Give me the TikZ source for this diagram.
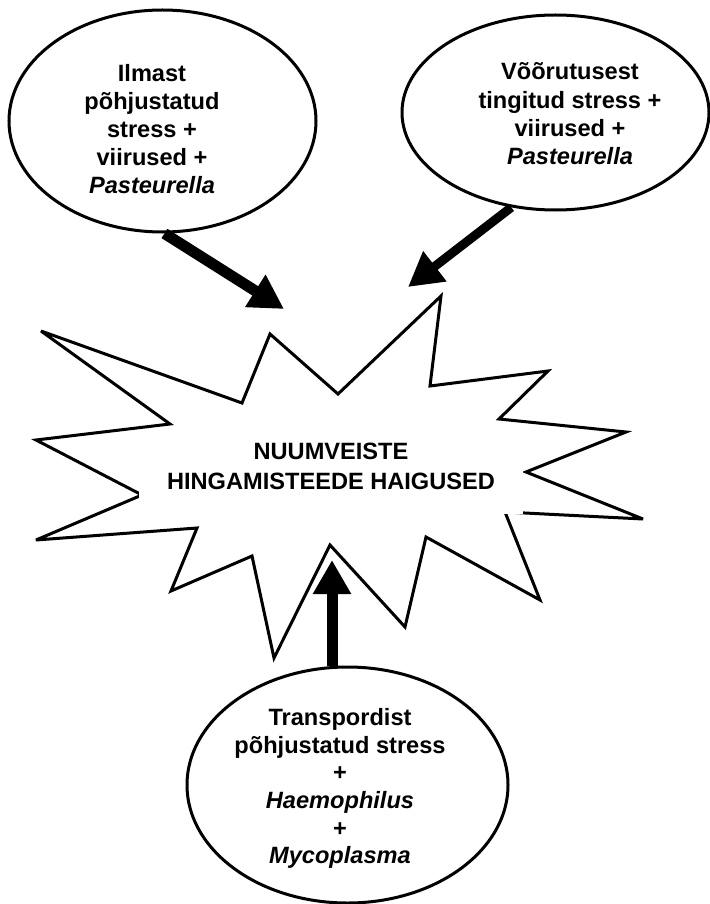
\documentclass[tikz,border=0pt]{standalone}
\usepackage{fontspec}
\setmainfont{Liberation Sans}
\usetikzlibrary{shapes.geometric,arrows.meta}
\begin{document}
\begin{tikzpicture}[x=1pt,y=-1pt,
  bubble/.style={ellipse,draw,line width=3pt,inner sep=0pt},
  lbl/.style={align=center,font=\fontsize{23.6}{28}\selectfont\bfseries,inner sep=0pt},
  fat/.style={line width=#1,-{Triangle[width=36pt,length=34pt]}},
  starline/.style={draw,line width=3pt,line join=miter,miter limit=5}
]
\useasboundingbox (0,0) rectangle (709,904);

% star burst
\path[starline] (41,331) -- (242,403) -- (270,334) -- (338,394) -- (441,296)
  -- (430,386) -- (548,371) -- (499,419) -- (626,432) -- (526,472)
  -- (643,519) -- (505,512) -- (540,600) -- (426,537) -- (405,627)
  -- (330,545) -- (274,658) -- (252,556) -- (171,591) -- (197,528)
  -- (36,540) -- (142,495) -- (36,440) -- (170,424) -- cycle;
\fill[white] (139,440) rectangle (523,514);
\node[lbl,font=\fontsize{23.6}{30}\selectfont\bfseries] (S) at (331,466.5)
  {NUUMVEISTE\\HINGAMISTEEDE HAIGUSED};

% ellipses
\node[bubble,minimum width=307pt,minimum height=222pt] (L) at (162.5,121) {};
\node[lbl] (Lt) at (152,129) {Ilmast\\põhjustatud\\stress +\\viirused +\\\textit{Pasteurella}};

\node[bubble,minimum width=307pt,minimum height=195pt] (R) at (555.5,112.5) {};
\node[lbl,font=\fontsize{23.6}{28.3}\selectfont\bfseries] (Rt) at (570,114)
  {Võõrutusest\\tingitud stress +\\viirused +\\\textit{Pasteurella}};

\node[bubble,minimum width=321pt,minimum height=236pt] (B) at (347.5,785) {};
\node[lbl,font=\fontsize{23.6}{27.7}\selectfont\bfseries] (Bt) at (340,788.5)
  {Transpordist\\põhjustatud stress\\+\\\textit{Haemophilus}\\+\\\textit{Mycoplasma}};

% arrows
\coordinate (lt) at (284,309);
\coordinate (rt) at (408,287);
\coordinate (bt) at (332,560);
\draw[fat=11pt] (L.-89) -- (lt);
\draw[fat=9pt] (R.245) -- (rt);
\draw[fat=11pt] (B.north -| bt) -- (bt);
\end{tikzpicture}
\end{document}
